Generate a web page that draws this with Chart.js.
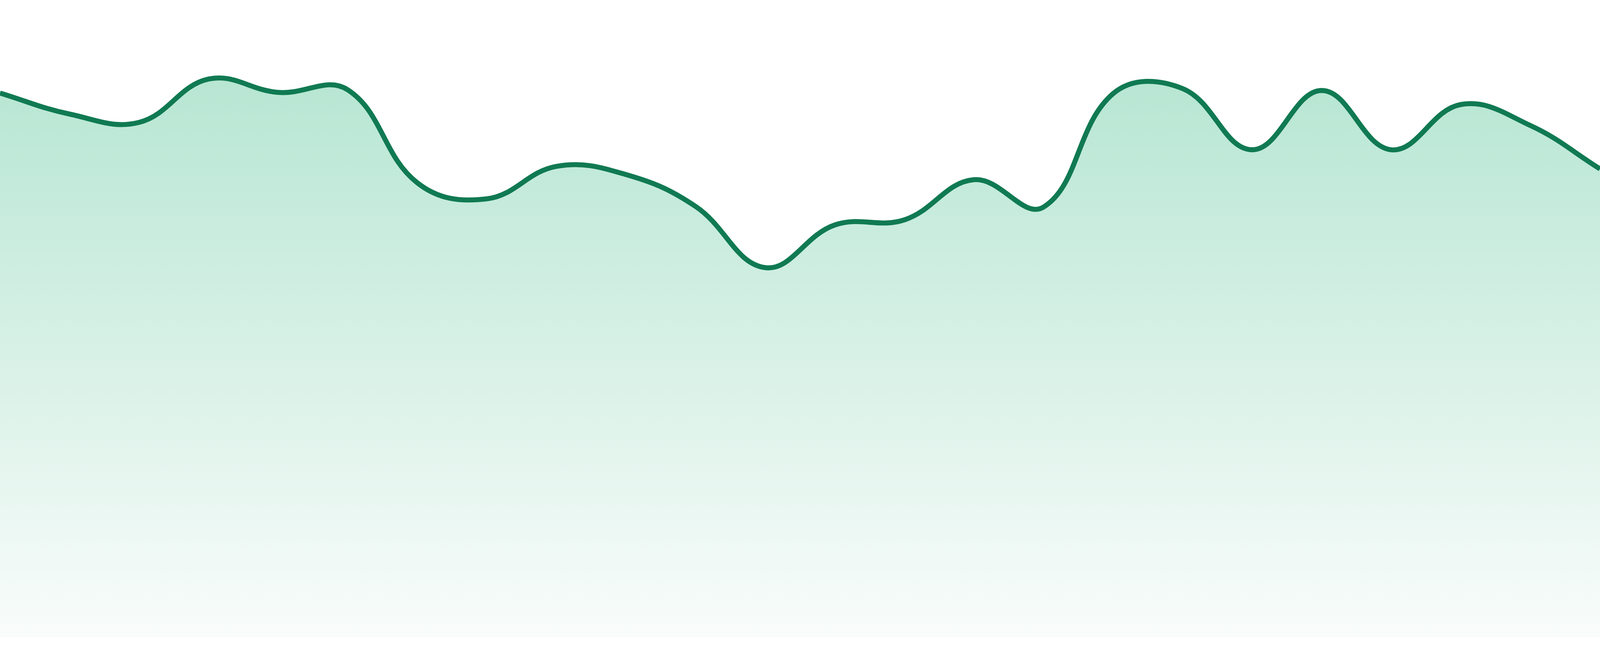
<!DOCTYPE html>
<html>
<head>
<meta charset="utf-8">
<script src="https://cdn.jsdelivr.net/npm/chart.js@4/dist/chart.umd.min.js"></script>
<style>
  html, body { margin: 0; padding: 0; width: 100%; height: 100%; overflow: hidden; background: #ffffff; }
  #wrap { position: absolute; left: 0; top: 0; width: 100vw; height: 100vh; }
  #c { display: block; }
</style>
</head>
<body>
<div id="wrap"><canvas id="c"></canvas></div>
<script>
const labels = ['1','2','3','4','5','6','7','8','9','10','11','12','13','14','15','16','17','18','19','20','21','22','23','24'];
const values = [85.4, 82.1, 80.8, 87.6, 85.5, 85.9, 71.3, 68.8, 73.9, 72.6, 67.6, 58.0, 64.7, 65.5, 71.8, 67.5, 85.3, 86.1, 76.5, 85.8, 76.5, 83.6, 80.3, 73.5];
const yMin = 0;
const yMax = 100;

const ctx = document.getElementById('c').getContext('2d');
new Chart(ctx, {
  type: 'line',
  data: {
    labels: labels,
    datasets: [{
      data: values,
      borderColor: '#107a52',
      borderWidth: function(c) { return Math.max(2, 15 * c.chart.width / 4800); },
      tension: 0.4,
      pointRadius: 0,
      pointHoverRadius: 0,
      fill: 'origin',
      backgroundColor: function(context) {
        const chart = context.chart;
        const area = chart.chartArea;
        if (!area) return 'rgba(178,229,208,1)';
        const g = chart.ctx.createLinearGradient(0, area.top, 0, area.bottom);
        g.addColorStop(0, 'rgb(174,227,205)');
        g.addColorStop(1, 'rgb(249,252,251)');
        return g;
      }
    }]
  },
  options: {
    responsive: true,
    maintainAspectRatio: false,
    animation: false,
    layout: {
      padding: function(c) {
        return { left: 0, right: 0, top: 0, bottom: Math.round(c.chart.height * 48 / 1680) };
      }
    },
    plugins: { legend: { display: false }, tooltip: { enabled: false }, title: { display: false } },
    scales: {
      x: { display: false, offset: false },
      y: { display: false, min: yMin, max: yMax }
    }
  }
});
</script>
</body>
</html>
